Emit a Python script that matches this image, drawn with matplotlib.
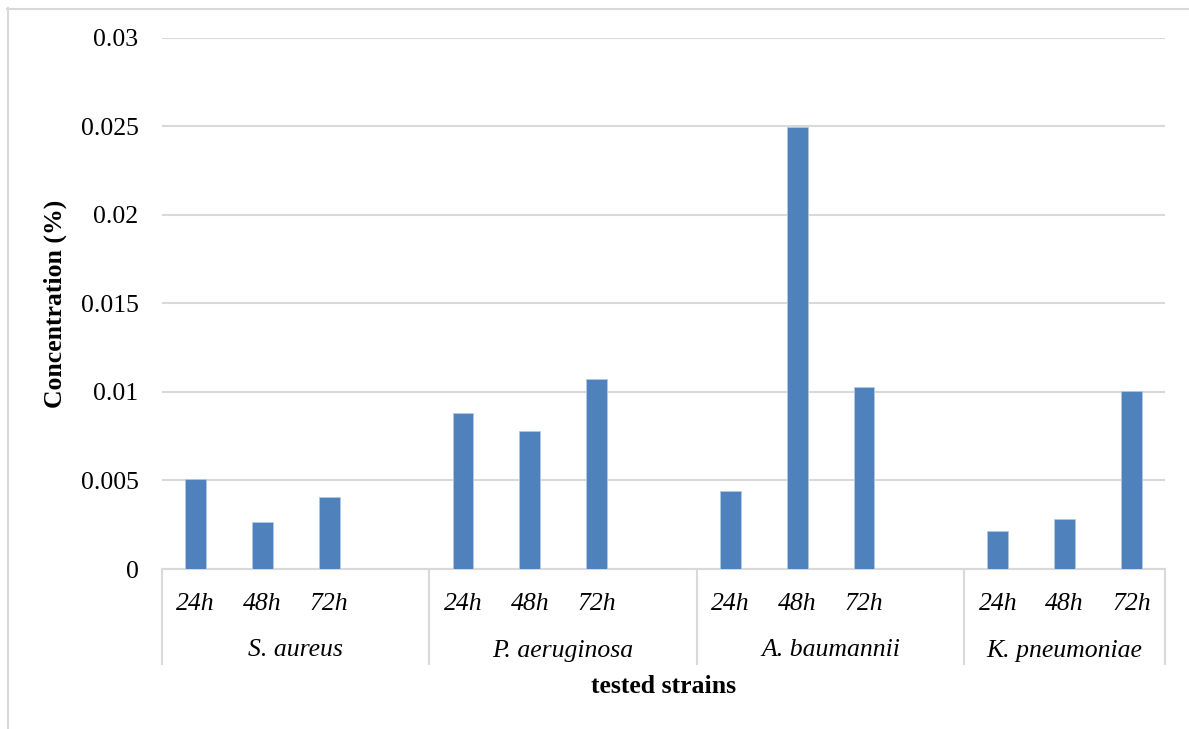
import matplotlib.pyplot as plt
from matplotlib import transforms
from matplotlib.lines import Line2D

# data
strains = ['S. aureus', 'P. aeruginosa', 'A. baumannii', 'K. pneumoniae']
times = ['24h', '48h', '72h']
s_aureus = [0.0051, 0.00265, 0.00406]
p_aeruginosa = [0.00878, 0.00777, 0.01072]
a_baumannii = [0.00438, 0.02494, 0.01027]
k_pneumoniae = [0.00217, 0.0028, 0.01002]
values = [s_aureus, p_aeruginosa, a_baumannii, k_pneumoniae]

yticks = [0, 0.005, 0.01, 0.015, 0.02, 0.025, 0.03]
ytick_labels = ['0', '0.005', '0.01', '0.015', '0.02', '0.025', '0.03']

plt.rcParams['font.family'] = ['Liberation Serif', 'DejaVu Serif']
FS = 18.5
BAR = '#4F81BD'
GRID = '#D9D9D9'

W, H = 1189, 729


def fx(px):
    return px / W


def fy(py):
    return 1 - py / H


fig = plt.figure(figsize=(W / 100, H / 100), dpi=100)
ax = fig.add_axes([fx(162), fy(569), fx(1165) - fx(162), fy(37.5) - fy(569)])

# every strain takes 4 slots (3 time points + a blank one), the last has no blank
slot = 4
for gi, vals in enumerate(values):
    xs = [gi * slot + i for i in range(len(vals))]
    ax.bar(xs, vals, width=0.31, color=BAR, edgecolor='#B4C8E2',
           linewidth=0.6, zorder=3)

n_slots = slot * (len(strains) - 1) + len(times)
ax.set_xlim(-0.5, n_slots - 0.5)
ax.set_ylim(0, 0.03)
ax.set_yticks(yticks)
ax.set_yticklabels(ytick_labels, fontsize=FS)
ax.set_xticks([])
ax.tick_params(axis='y', length=0, pad=17)
ax.grid(axis='y', color=GRID, linewidth=1.5)
ax.set_axisbelow(True)
for side in ['left', 'right', 'top']:
    ax.spines[side].set_visible(False)
ax.spines['bottom'].set_color(GRID)
ax.spines['bottom'].set_linewidth(1.5)

# two-level category axis
trans = transforms.blended_transform_factory(ax.transData, ax.transAxes)
ax_h = 569 - 37.5


def ay(py):
    return -(py - 569) / ax_h


for gi, name in enumerate(strains):
    start = gi * slot
    for i, t in enumerate(times):
        ax.text(start + i, ay(610), t, transform=trans, ha='center',
                va='baseline', fontsize=FS, style='italic')
    end = min(start + slot, n_slots)
    ax.text((start - 0.5 + end - 0.5) / 2, ay(656.5), name, transform=trans,
            ha='center', va='baseline', fontsize=FS, style='italic')

bounds = [-0.5] + [gi * slot + slot - 0.5 for gi in range(len(strains) - 1)] + [n_slots - 0.5]
for b in bounds:
    ax.add_line(Line2D([b, b], [0, ay(663.5)], transform=trans, color=GRID,
                       linewidth=1.5, clip_on=False))

fig.text(fx(663.5), fy(693.3), 'tested strains', ha='center', va='baseline',
         fontsize=FS, fontweight='bold')
fig.text(fx(55), fy(304), 'Concentration (%)', ha='center', va='center',
         rotation=90, fontsize=FS, fontweight='bold')

# outer frame (top and left edges)
fig.add_artist(Line2D([fx(7), 1], [fy(8.5), fy(8.5)], transform=fig.transFigure,
                      color=GRID, linewidth=1.5))
fig.add_artist(Line2D([fx(7.5), fx(7.5)], [fy(8), 0], transform=fig.transFigure,
                      color=GRID, linewidth=1.5))

fig.savefig('out.png', dpi=100)
